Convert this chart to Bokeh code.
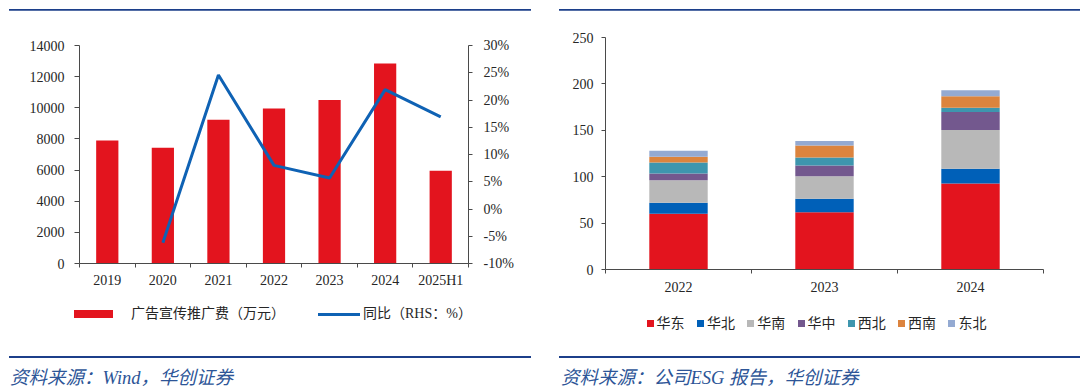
from bokeh.plotting import figure
from bokeh.models import (Range1d, LinearAxis, FixedTicker, PrintfTickFormatter,
                          ColumnDataSource, Div)
from bokeh.layouts import row, column
from bokeh.embed import file_html
from bokeh.resources import INLINE

# ---------------- data ----------------
years_left = ["2019", "2020", "2021", "2022", "2023", "2024", "2025H1"]
ad_expense = [7900, 7440, 9230, 9950, 10500, 12850, 5950]          # 万元
yoy_pct = [float("nan"), -6.2, 24.6, 8.0, 5.7, 21.9, 16.9]          # %

years_right = ["2022", "2023", "2024"]
regions = ["华东", "华北", "华南", "华中", "西北", "西南", "东北"]
east = [60.0, 61.6, 92.8]
north = [12.0, 14.7, 15.7]
south = [24.3, 24.3, 41.9]
central = [7.2, 11.5, 19.4]
northwest = [11.8, 8.6, 4.6]
southwest = [6.1, 12.9, 12.2]
northeast = [6.5, 5.0, 6.5]

left_legend_labels = ["广告宣传推广费（万元）", "同比（RHS：%）"]
source_left = "资料来源：Wind，华创证券"
source_right = "资料来源：公司ESG 报告，华创证券"

# ---------------- styles ----------------
RED = "#E3141E"
LINE_BLUE = "#0F62B4"
region_colors = ["#E3141E", "#0060B8", "#B8B8B8", "#73588E", "#3E96AE", "#DC843E", "#94AAD2"]
NAVY = "#1C3F8A"
SRC_COLOR = "#2D5597"
AXIS_COLOR = "#4A4A4A"
TEXT_COLOR = "#262626"
TICK_FONT = "Liberation Serif"
MIXED_FONT = "'Liberation Serif','Noto Sans CJK SC'"

PANEL_W = 540
TOP_H = 10
BOT_H = 35
MAIN_H_L, LEG_H_L = 285, 60
MAIN_H_R, LEG_H_R = 290, 55


def style_y(ax, tick_out, standoff):
    ax.axis_line_color = AXIS_COLOR
    ax.major_tick_line_color = AXIS_COLOR
    ax.major_tick_out = tick_out
    ax.major_tick_in = 0
    ax.minor_tick_line_color = None
    ax.major_label_text_font = TICK_FONT
    ax.major_label_text_font_size = "14px"
    ax.major_label_text_color = TEXT_COLOR
    ax.major_label_standoff = standoff


def style_x(ax, labels, standoff):
    n = len(labels)
    centers = [i + 0.5 for i in range(n)]
    ax.ticker = FixedTicker(ticks=centers, minor_ticks=list(range(n + 1)))
    ax.major_label_overrides = {c: l for c, l in zip(centers, labels)}
    ax.axis_line_color = AXIS_COLOR
    ax.major_tick_line_color = None
    ax.major_tick_out = 0
    ax.major_tick_in = 0
    ax.minor_tick_line_color = AXIS_COLOR
    ax.minor_tick_out = 4
    ax.minor_tick_in = 0
    ax.major_label_text_font = TICK_FONT
    ax.major_label_text_font_size = "14px"
    ax.major_label_text_color = TEXT_COLOR
    ax.major_label_standoff = standoff


def clean(p):
    p.outline_line_color = None
    p.background_fill_color = "white"
    p.border_fill_color = "white"
    p.xgrid.visible = False
    p.ygrid.visible = False


def top_line(x0, w):
    html = (f'<div style="position:relative;width:{PANEL_W}px;height:{TOP_H}px;">'
            f'<div style="position:absolute;left:{x0}px;top:6.5px;width:{w}px;height:2px;'
            f'background:{NAVY};"></div></div>')
    return Div(text=html, width=PANEL_W, height=TOP_H, margin=(0, 0, 0, 0))


def bottom_block(x0, w, text_x, text):
    html = (f'<div style="position:relative;width:{PANEL_W}px;height:{BOT_H}px;">'
            f'<div style="position:absolute;left:{x0}px;top:0.5px;width:{w}px;height:2.5px;'
            f'background:{NAVY};"></div>'
            f'<div style="position:absolute;left:{text_x}px;top:14px;white-space:nowrap;'
            f'font-family:{MIXED_FONT};font-style:italic;font-size:18.5px;line-height:18px;'
            f'color:{SRC_COLOR};">{text}</div></div>')
    return Div(text=html, width=PANEL_W, height=BOT_H, margin=(0, 0, 0, 0))


def legend_div(height, entries, size):
    """entries: list of (color, label, key_left, key_top, key_w, key_h, label_left, center_y)"""
    parts = [f'<div style="position:relative;width:{PANEL_W}px;height:{height}px;'
             f'font-family:{MIXED_FONT};color:{TEXT_COLOR};font-size:{size};">']
    for color, label, kl, kt, kw, kh, ll, cy in entries:
        parts.append(f'<div style="position:absolute;left:{kl}px;top:{kt}px;width:{kw}px;'
                     f'height:{kh}px;background:{color};"></div>')
        parts.append(f'<div style="position:absolute;left:{ll}px;top:{cy - 8}px;'
                     f'line-height:16px;white-space:nowrap;">{label}</div>')
    parts.append('</div>')
    return Div(text="".join(parts), width=PANEL_W, height=height, margin=(0, 0, 0, 0))


# ---------------- left chart ----------------
p1 = figure(width=PANEL_W, height=MAIN_H_L, x_range=Range1d(0, len(years_left)),
            y_range=Range1d(0, 14000), output_backend="svg", toolbar_location=None, title=None,
            min_border_left=79, min_border_right=72, min_border_top=35,
            min_border_bottom=MAIN_H_L - 35 - 218)
clean(p1)
p1.extra_y_ranges = {"pct": Range1d(-10, 30)}
src1 = ColumnDataSource(dict(x=[i + 0.5 for i in range(len(years_left))],
                             expense=ad_expense, yoy=yoy_pct))
p1.vbar(x="x", top="expense", bottom=0, width=0.4, source=src1,
        fill_color=RED, line_color=None)
p1.line(x="x", y="yoy", source=src1, y_range_name="pct",
        line_color=LINE_BLUE, line_width=3)

ryax = LinearAxis(y_range_name="pct", ticker=FixedTicker(ticks=list(range(-10, 31, 5))),
                  formatter=PrintfTickFormatter(format="%d%%"))
p1.add_layout(ryax, "right")
p1.yaxis[0].ticker = FixedTicker(ticks=list(range(0, 14001, 2000)))
style_y(p1.yaxis[0], 5, 10)
style_y(ryax, 4, 11)
style_x(p1.xaxis[0], years_left, 5)

leg_left = legend_div(LEG_H_L, [
    (RED, left_legend_labels[0], 74, 15, 39, 8, 131, 19),
    (LINE_BLUE, left_legend_labels[1], 318, 17.5, 42, 3, 363, 19),
], "14px")

# ---------------- right chart ----------------
p2 = figure(width=PANEL_W, height=MAIN_H_R, x_range=Range1d(0, len(years_right)),
            y_range=Range1d(0, 250), output_backend="svg", toolbar_location=None, title=None,
            min_border_left=65, min_border_right=37, min_border_top=27,
            min_border_bottom=MAIN_H_R - 27 - 232)
clean(p2)
src2 = ColumnDataSource(dict(x=[i + 0.5 for i in range(len(years_right))],
                             **{"华东": east, "华北": north, "华南": south, "华中": central,
                                "西北": northwest, "西南": southwest, "东北": northeast}))
p2.vbar_stack(regions, x="x", width=0.4, fill_color=region_colors,
              line_color=None, source=src2)
p2.yaxis[0].ticker = FixedTicker(ticks=list(range(0, 251, 50)))
style_y(p2.yaxis[0], 4, 8)
style_x(p2.xaxis[0], years_right, 8)

PITCH = 50.3
leg_right = legend_div(LEG_H_R, [
    (c, r, round(106.6 + k * PITCH, 1), 20, 7, 7, round(116.6 + k * PITCH, 1), 23.5)
    for k, (r, c) in enumerate(zip(regions, region_colors))
], "14px")

left_panel = column(top_line(9, 522), p1, leg_left,
                    bottom_block(9, 522, 10, source_left), spacing=0)
right_panel = column(top_line(19, 521), p2, leg_right,
                     bottom_block(19, 521, 21, source_right), spacing=0)
layout = row(left_panel, right_panel, spacing=0)
open("out.html", "w").write(file_html(layout, INLINE))
